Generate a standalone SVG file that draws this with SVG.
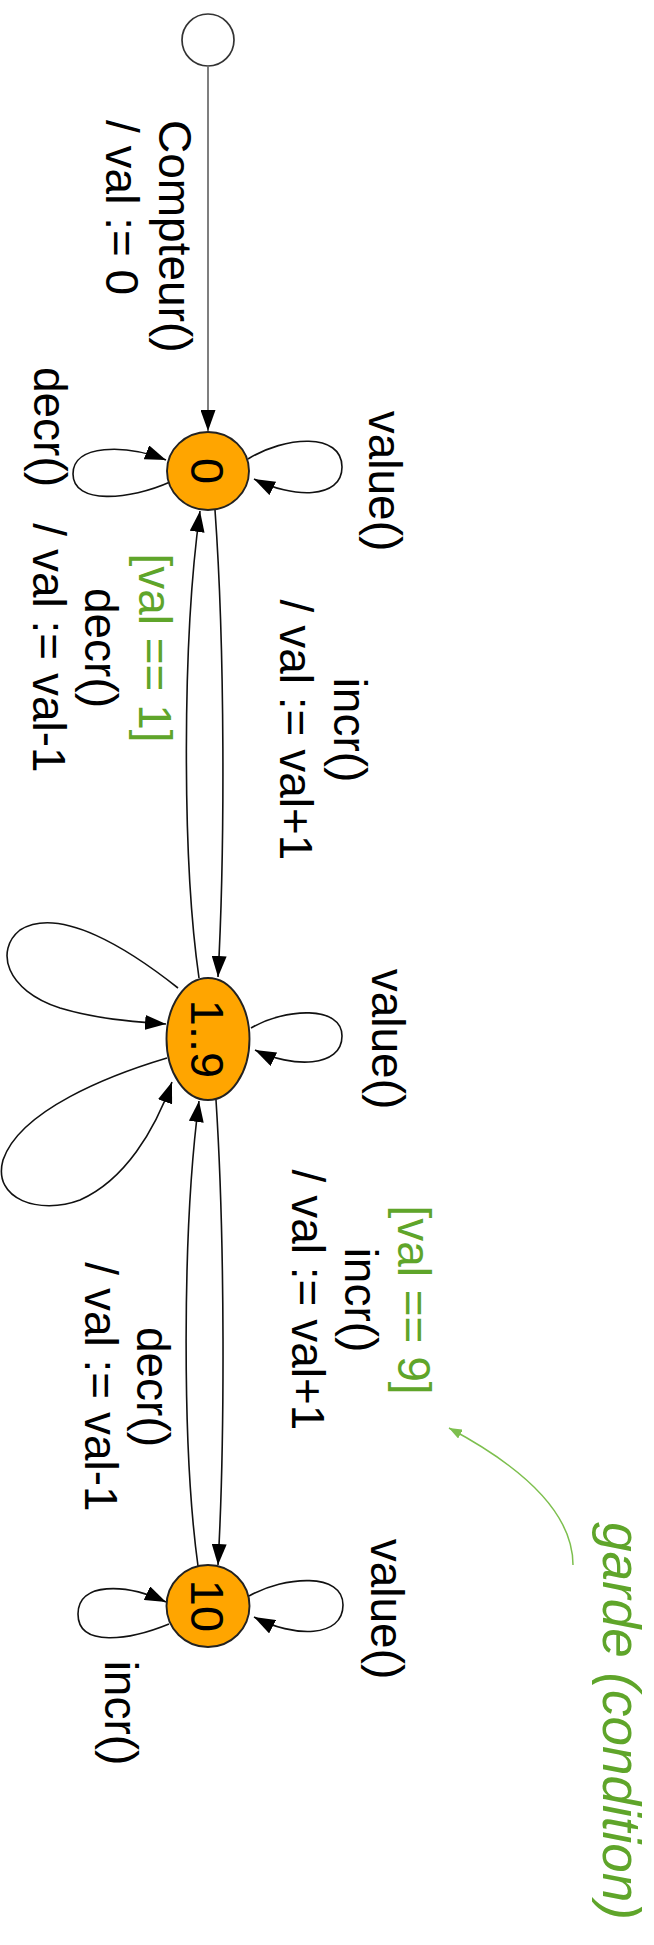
<svg xmlns="http://www.w3.org/2000/svg" width="654" height="1945" viewBox="0 0 654 1945">
  <style>
    text { font-family: "Liberation Sans", Arial, Helvetica, sans-serif; font-size: 46px; fill: #000; }
    .state { fill: #ffa500; stroke: #222; stroke-width: 1.9; }
    .init { fill: #fff; stroke: #333; stroke-width: 1.7; }
    .nlabel { font-size: 47px; text-anchor: middle; }
    .lbl { text-anchor: middle; }
    .guard { fill: #5fa52a; }
    .edge { fill: none; stroke: #111; stroke-width: 1.6; marker-end: url(#arr); }
    .initedge { fill: none; stroke: #555; stroke-width: 1.5; marker-end: url(#arr); }
    .note { fill: none; stroke: #7dbf4e; stroke-width: 1.5; marker-end: url(#garr); }
    .notetext { font-size: 53px; font-style: italic; fill: #5fa52a; text-anchor: middle; }
  </style>
  <defs>
    <marker id="arr" markerUnits="userSpaceOnUse" viewBox="0 0 21 15" refX="21" refY="7.5" markerWidth="21" markerHeight="15" orient="auto">
      <path d="M0,0 L21,7.5 L0,15 z" fill="#000"/>
    </marker>
    <marker id="garr" markerUnits="userSpaceOnUse" viewBox="0 0 13 10" refX="13" refY="5" markerWidth="13" markerHeight="10" orient="auto">
      <path d="M0,0 L13,5 L0,10 z" fill="#7dbf4e"/>
    </marker>
  </defs>

  <!-- transitions -->
  <g id="edges">
    <path class="initedge" d="M208,67 L208,431"/>
    <!-- 0 loops -->
    <path class="edge" d="M248,459 C285,436 342,432 342,467 C342,500 292,498 254,479"/>
    <path class="edge" d="M170,482 C130,500 73,505 73,474 C73,444 125,444 166,460"/>
    <!-- 0 <-> 1..9 -->
    <path class="edge" d="M215,510 C225,650 225,850 218,977"/>
    <path class="edge" d="M199,978 C182,860 182,640 200,511"/>
    <!-- 1..9 loops -->
    <path class="edge" d="M251,1028 C285,1008 342,1005 342,1036 C342,1068 292,1068 255,1050"/>
    <path class="edge" d="M178,988 C130,950 60,905 20,930 C-5,950 5,990 60,1008 C100,1020 140,1022 166,1024"/>
    <path class="edge" d="M167,1058 C110,1075 20,1110 3,1160 C-8,1200 40,1215 80,1200 C125,1180 155,1130 172,1082"/>
    <!-- 1..9 <-> 10 -->
    <path class="edge" d="M216,1100 C225,1240 225,1440 218,1565"/>
    <path class="edge" d="M198,1566 C182,1450 182,1230 199,1101"/>
    <!-- 10 loops -->
    <path class="edge" d="M249,1596 C285,1576 343,1572 343,1605 C343,1638 294,1638 254,1617"/>
    <path class="edge" d="M169,1624 C130,1640 78,1648 78,1614 C78,1582 125,1583 166,1602"/>
  </g>

  <!-- transition labels -->
  <g id="edge-labels">
    <text transform="translate(159,120) rotate(90)"><tspan x="0" y="0">Compteur()</tspan><tspan x="0" dy="53">/ val := 0</tspan></text>
    <text class="lbl" transform="translate(369,481) rotate(90)">value()</text>
    <text class="lbl" transform="translate(34,427) rotate(90)">decr()</text>
    <text class="lbl" transform="translate(334,730) rotate(90)"><tspan x="0" y="0">incr()</tspan><tspan x="0" dy="54">/ val := val+1</tspan></text>
    <text class="lbl" transform="translate(139,648) rotate(90)"><tspan x="0" y="0" class="guard">[val == 1]</tspan><tspan x="0" dy="54">decr()</tspan><tspan x="0" dy="52">/ val := val-1</tspan></text>
    <text class="lbl" transform="translate(372,1039) rotate(90)">value()</text>
    <text class="lbl" transform="translate(398,1300) rotate(90)"><tspan x="0" y="0" class="guard">[val == 9]</tspan><tspan x="0" dy="53">incr()</tspan><tspan x="0" dy="53">/ val := val+1</tspan></text>
    <text class="lbl" transform="translate(137,1387) rotate(90)"><tspan x="0" y="0">decr()</tspan><tspan x="0" dy="52">/ val := val-1</tspan></text>
    <text class="lbl" transform="translate(371,1609) rotate(90)">value()</text>
    <text class="lbl" transform="translate(105,1713) rotate(90)">incr()</text>
  </g>

  <!-- states -->
  <g id="node-initial">
    <circle class="init" cx="208" cy="40" r="26"/>
  </g>
  <g id="node-0">
    <ellipse class="state" cx="208" cy="471" rx="41" ry="39"/>
    <text class="nlabel" transform="translate(191,471) rotate(90)">0</text>
  </g>
  <g id="node-1-9">
    <ellipse class="state" cx="208" cy="1039" rx="41.5" ry="61"/>
    <text class="nlabel" transform="translate(191,1039) rotate(90)">1..9</text>
  </g>
  <g id="node-10">
    <ellipse class="state" cx="208" cy="1606" rx="41.5" ry="41"/>
    <text class="nlabel" transform="translate(191,1606) rotate(90)">10</text>
  </g>

  <!-- annotation -->
  <g id="note-garde">
    <path class="note" d="M573,1565 Q573,1494 449,1428"/>
    <text class="notetext" transform="translate(603,1721) rotate(90)">garde (condition)</text>
  </g>
</svg>
